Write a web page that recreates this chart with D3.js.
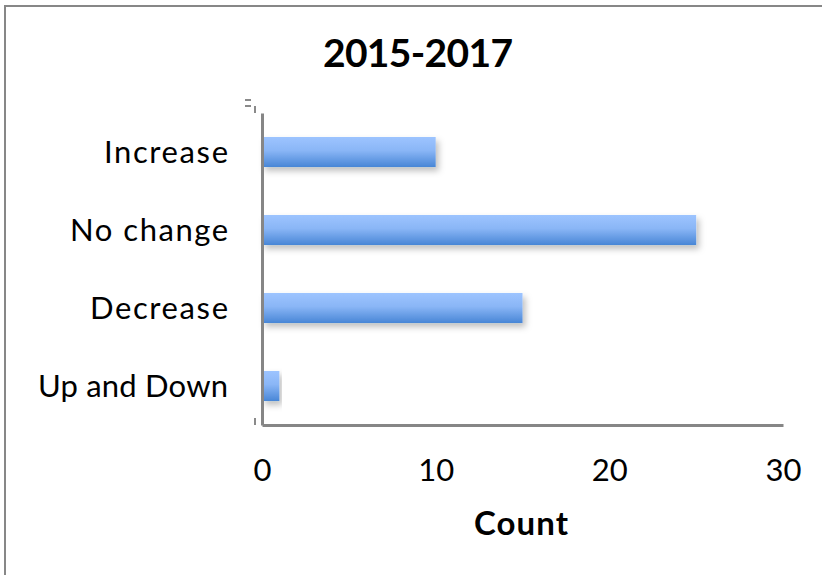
<!DOCTYPE html>
<html><head><meta charset="utf-8">
<script src="https://cdn.jsdelivr.net/npm/d3@7"></script>
<style>
html,body{margin:0;padding:0;background:#fff;}
svg text{font-family:"Lato","Liberation Sans",sans-serif;fill:#000;}
</style></head>
<body><svg id="c" width="822" height="575"></svg>
<script>
const categories = ["Increase", "No change", "Decrease", "Up and Down"];
const counts = [10, 25, 15, 1];
const xTicks = [0, 10, 20, 30];
const title = "2015-2017";
const xTitle = "Count";

// text widths measured on the reference rendering (layout only)
const labelWidth = {"Increase":124, "No change":158, "Decrease":138, "Up and Down":190};

const svg = d3.select("#c");
const defs = svg.append("defs");
const grad = defs.append("linearGradient").attr("id","bg").attr("x1",0).attr("x2",0).attr("y1",0).attr("y2",1);
grad.append("stop").attr("offset","0%").attr("stop-color","#9dc4ff");
grad.append("stop").attr("offset","45%").attr("stop-color","#8ab6f6");
grad.append("stop").attr("offset","100%").attr("stop-color","#4886d6");
const f = defs.append("filter").attr("id","sh").attr("x","-5%").attr("y","-20%").attr("width","115%").attr("height","170%");
f.append("feDropShadow").attr("dx",3).attr("dy",4).attr("stdDeviation",3).attr("flood-color","#000").attr("flood-opacity",0.25);

// outer border
svg.append("rect").attr("x",5).attr("y",6).attr("width",840).attr("height",600)
  .attr("fill","none").attr("stroke","#878787").attr("stroke-width",2);

const x = d3.scaleLinear().domain([0,30]).range([262,783]);
const y = d3.scaleBand().domain(categories).range([113,425]).paddingInner(0.615).paddingOuter(0.3075);

svg.append("text").attr("x",418).attr("y",67).attr("text-anchor","middle")
  .attr("font-size",39).attr("font-weight","bold")
  .attr("textLength",190).attr("lengthAdjust","spacing").text(title);

svg.selectAll("rect.bar").data(categories).join("rect").attr("class","bar")
  .attr("x",x(0)).attr("y",d=>y(d))
  .attr("width",(d,i)=>x(counts[i])-x(0)).attr("height",y.bandwidth())
  .attr("fill","url(#bg)").attr("filter","url(#sh)");

// axes
const yAxis = d3.axisLeft(y).tickSize(0).tickPadding(34);
const gy = svg.append("g").attr("transform",`translate(${x(0)},0)`).call(yAxis);
gy.select(".domain").attr("stroke","#868686").attr("stroke-width",3);
gy.selectAll("text").attr("font-size",31).attr("dy","0.36em")
  .attr("textLength",d=>labelWidth[d]).attr("lengthAdjust","spacing")
  .style("font-family",'"Lato","Liberation Sans",sans-serif');

const xAxis = d3.axisBottom(x).tickValues(xTicks).tickSize(0).tickPadding(34).tickFormat(d3.format("d"));
const gx = svg.append("g").attr("transform","translate(0,425)").call(xAxis);
gx.select(".domain").attr("stroke","#868686").attr("stroke-width",3);
gx.selectAll("text").attr("font-size",31).style("font-family",'"Lato","Liberation Sans",sans-serif');

svg.append("text").attr("x",521).attr("y",535).attr("text-anchor","middle")
  .attr("font-size",33).attr("font-weight","bold")
  .attr("textLength",94).attr("lengthAdjust","spacing").text(xTitle);

// small stray marks near axis ends
const marks = [[245,100,251,100],[245,106,251,106],[255,106,255,113],[255,418,255,425]];
svg.selectAll("line.m").data(marks).join("line").attr("class","m")
  .attr("x1",d=>d[0]).attr("y1",d=>d[1]).attr("x2",d=>d[2]).attr("y2",d=>d[3])
  .attr("stroke","#8a8a8a").attr("stroke-width",2);
</script></body></html>
